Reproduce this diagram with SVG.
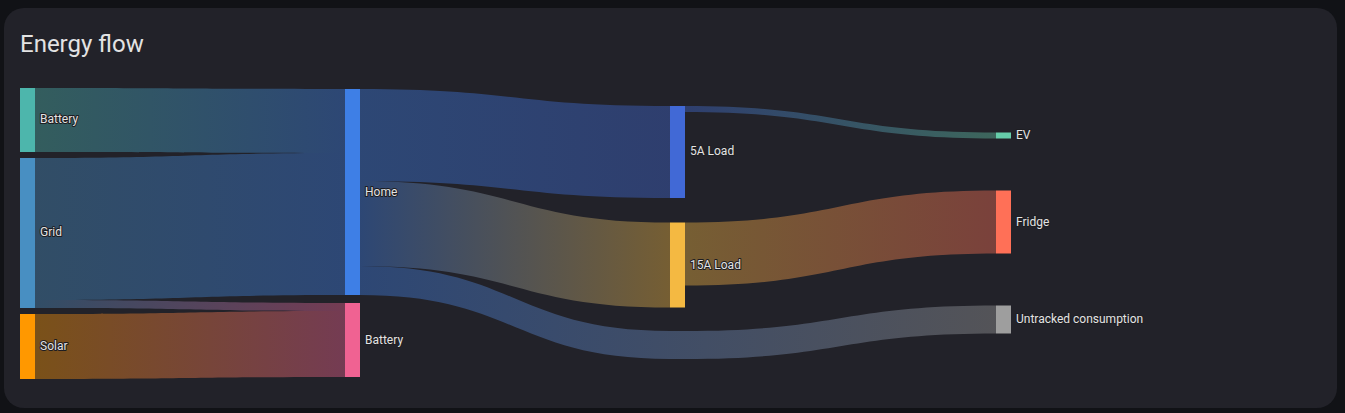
<svg xmlns="http://www.w3.org/2000/svg" width="1345" height="413" viewBox="0 0 1345 413">
<style>
.lbl{font-family:Roboto,"Liberation Sans",sans-serif;font-size:12px;fill:#e3e3e3;stroke:#1d1d22;stroke-width:2;stroke-linejoin:round;paint-order:stroke;dominant-baseline:central}
.title{font-family:Roboto,"Liberation Sans",sans-serif;font-size:24px;fill:#e3e3e3}
.link{opacity:0.4}
</style>
<defs>
<linearGradient id="gBatHome" gradientUnits="userSpaceOnUse" x1="35" y1="0" x2="345" y2="0"><stop offset="0" stop-color="#4db6ac"/><stop offset="1" stop-color="#3e7fe6"/></linearGradient>
<linearGradient id="gGridHome" gradientUnits="userSpaceOnUse" x1="35" y1="0" x2="345" y2="0"><stop offset="0" stop-color="#488fc2"/><stop offset="1" stop-color="#3e7fe6"/></linearGradient>
<linearGradient id="gGridBat" gradientUnits="userSpaceOnUse" x1="35" y1="0" x2="345" y2="0"><stop offset="0" stop-color="#488fc2"/><stop offset="1" stop-color="#f06292"/></linearGradient>
<linearGradient id="gSolarBat" gradientUnits="userSpaceOnUse" x1="35" y1="0" x2="345" y2="0"><stop offset="0" stop-color="#ff9800"/><stop offset="1" stop-color="#f06292"/></linearGradient>
<linearGradient id="gHome5A" gradientUnits="userSpaceOnUse" x1="360" y1="0" x2="670" y2="0"><stop offset="0" stop-color="#3e7fe6"/><stop offset="1" stop-color="#4169d6"/></linearGradient>
<linearGradient id="gHome15A" gradientUnits="userSpaceOnUse" x1="360" y1="0" x2="670" y2="0"><stop offset="0" stop-color="#3e7fe6"/><stop offset="1" stop-color="#f4b942"/></linearGradient>
<linearGradient id="gHomeUnt" gradientUnits="userSpaceOnUse" x1="360" y1="0" x2="996" y2="0"><stop offset="0" stop-color="#3e7fe6"/><stop offset="1" stop-color="#9e9e9e"/></linearGradient>
<linearGradient id="g5AEV" gradientUnits="userSpaceOnUse" x1="685" y1="0" x2="996" y2="0"><stop offset="0" stop-color="#4169d6"/><stop offset="1" stop-color="#66cdaa"/></linearGradient>
<linearGradient id="g15AFridge" gradientUnits="userSpaceOnUse" x1="685" y1="0" x2="996" y2="0"><stop offset="0" stop-color="#f4b942"/><stop offset="1" stop-color="#ff7057"/></linearGradient>
</defs>
<rect x="0" y="0" width="1345" height="413" fill="#111216"/>
<rect x="4" y="8" width="1333" height="400" rx="20" ry="20" fill="#222229"/>
<text class="title" x="20" y="52">Energy flow</text>
<g id="connectors">
<path class="link" fill="url(#gBatHome)" d="M35,88 C190,88 190,89 345,89 L345,153 C190,153 190,152 35,152 Z"/>
<path class="link" fill="url(#gGridHome)" d="M35,158 C190,158 190,153 345,153 L345,295 C190,295 190,300 35,300 Z"/>
<path class="link" fill="url(#gGridBat)" d="M35,300 C190,300 190,303 345,303 L345,311 C190,311 190,308 35,308 Z"/>
<path class="link" fill="url(#gSolarBat)" d="M35,314 C190,314 190,311 345,311 L345,377 C190,377 190,379 35,379 Z"/>
<path class="link" fill="url(#gHome5A)" d="M360,89 C515,89 515,106 670,106 L670,198 C515,198 515,181 360,181 Z"/>
<path class="link" fill="url(#gHome15A)" d="M360,181 C515,181 515,222.5 670,222.5 L670,307.5 C515,307.5 515,266 360,266 Z"/>
<path class="link" fill="url(#gHomeUnt)" d="M360,266 C515,266 515,331 670,331 L685,331 C840,331 840,305.5 996,305.5 L996,333.5 C840,333.5 840,359 685,359 L670,359 C515,359 515,295 360,295 Z"/>
<path class="link" fill="url(#g5AEV)" d="M685,106 C840,106 840,132.5 996,132.5 L996,138.5 C840,138.5 840,112 685,112 Z"/>
<path class="link" fill="url(#g15AFridge)" d="M685,222.5 C840,222.5 840,190.5 996,190.5 L996,253.5 C840,253.5 840,285.5 685,285.5 Z"/>
</g>
<g id="node-battery-src"><rect x="20" y="88" width="15" height="64" fill="#4db6ac"/><text class="lbl" x="40" y="119">Battery</text></g>
<g id="node-grid"><rect x="20" y="158" width="15" height="150" fill="#488fc2"/><text class="lbl" x="40" y="232">Grid</text></g>
<g id="node-solar"><rect x="20" y="314" width="15" height="65" fill="#ff9800"/><text class="lbl" x="40" y="346">Solar</text></g>
<g id="node-home"><rect x="345" y="89" width="15" height="206" fill="#3e7fe6"/><text class="lbl" x="365" y="192">Home</text></g>
<g id="node-battery-dst"><rect x="345" y="303" width="15" height="74" fill="#f06292"/><text class="lbl" x="365" y="340">Battery</text></g>
<g id="node-5a"><rect x="670" y="106" width="15" height="92" fill="#4169d6"/><text class="lbl" x="690" y="151">5A Load</text></g>
<g id="node-15a"><rect x="670" y="222.5" width="15" height="85" fill="#f4b942"/><text class="lbl" x="690" y="265">15A Load</text></g>
<g id="node-ev"><rect x="996" y="132.5" width="15" height="6" fill="#66cdaa"/><text class="lbl" x="1016" y="135">EV</text></g>
<g id="node-fridge"><rect x="996" y="190.5" width="15" height="63" fill="#ff7057"/><text class="lbl" x="1016" y="222">Fridge</text></g>
<g id="node-untracked"><rect x="996" y="305.5" width="15" height="28" fill="#9e9e9e"/><text class="lbl" x="1016" y="319">Untracked consumption</text></g>
</svg>
